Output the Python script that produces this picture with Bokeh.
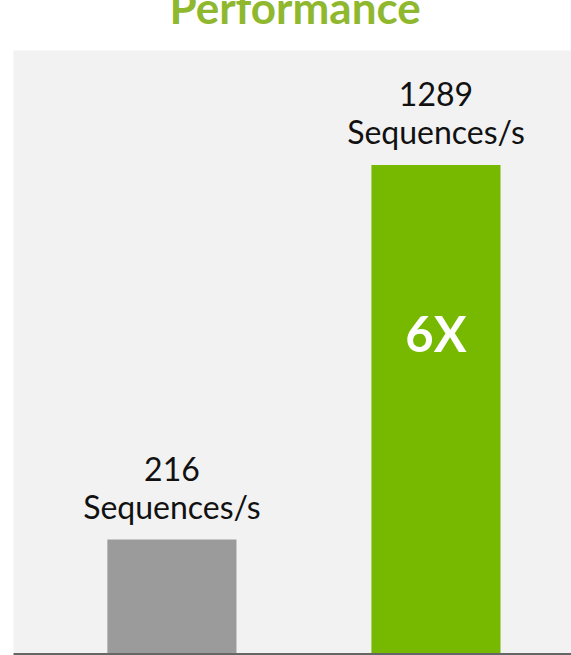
from bokeh.plotting import figure
from bokeh.models import ColumnDataSource, Range1d
from bokeh.core.properties import value
from bokeh.embed import file_html
from bokeh.resources import INLINE

# ---- data ----
categories = ["Baseline", "Accelerated"]
throughput = [216, 1289]
unit_labels = ["Sequences/s", "Sequences/s"]
speedup_labels = ["", "6X"]
bar_colors = ["#9b9b9b", "#76b900"]

xs = list(range(len(categories)))
src = ColumnDataSource(dict(
    x=xs,
    top=throughput,
    val=[str(v) for v in throughput],
    unit=unit_labels,
    speed=speedup_labels,
    color=bar_colors,
))

y_start, y_end = -113.4, 1617
p = figure(width=571, height=699, output_backend="svg", toolbar_location=None,
           x_range=Range1d(-0.600, 1.5133), y_range=Range1d(y_start, y_end),
           y_axis_location=None, min_border_left=13, min_border_right=0,
           min_border_top=65, min_border_bottom=0,
           margin=(-39, 0, 0, 0))

p.title.text = "Performance"
p.title.align = "left"
p.title.text_font = "Lato"
p.title.text_font_style = "bold"
p.title.text_font_size = "44px"
p.title.text_color = "#8fb82f"
p.title.offset = 156
p.title.standoff = 35

p.background_fill_color = "#f2f2f2"
p.border_fill_color = "white"
p.outline_line_color = None
p.grid.visible = False

p.xaxis.axis_line_color = "#666666"
p.xaxis.axis_line_width = 3
p.xaxis.major_tick_line_color = None
p.xaxis.minor_tick_line_color = None
p.xaxis.major_label_text_font_size = "0px"
p.xaxis.major_label_standoff = 0

p.vbar(x="x", top="top", bottom=y_start, width=0.489, color="color",
       line_color=None, source=src)

p.text(x="x", y="top", text="val", source=src, y_offset=-71,
       text_align="center", text_baseline="alphabetic",
       text_font=value("Lato"), text_font_size="32px", text_color="#111111")
p.text(x="x", y="top", text="unit", source=src, y_offset=-33,
       text_align="center", text_baseline="alphabetic",
       text_font=value("Lato"), text_font_size="32px", text_color="#111111")
p.text(x="x", y="top", text="speed", source=src, y_offset=168,
       text_align="center", text_baseline="alphabetic",
       text_font=value("Lato"), text_font_style="bold",
       text_font_size="49px", text_color="white")

open("out.html", "w").write(file_html(p, INLINE))
